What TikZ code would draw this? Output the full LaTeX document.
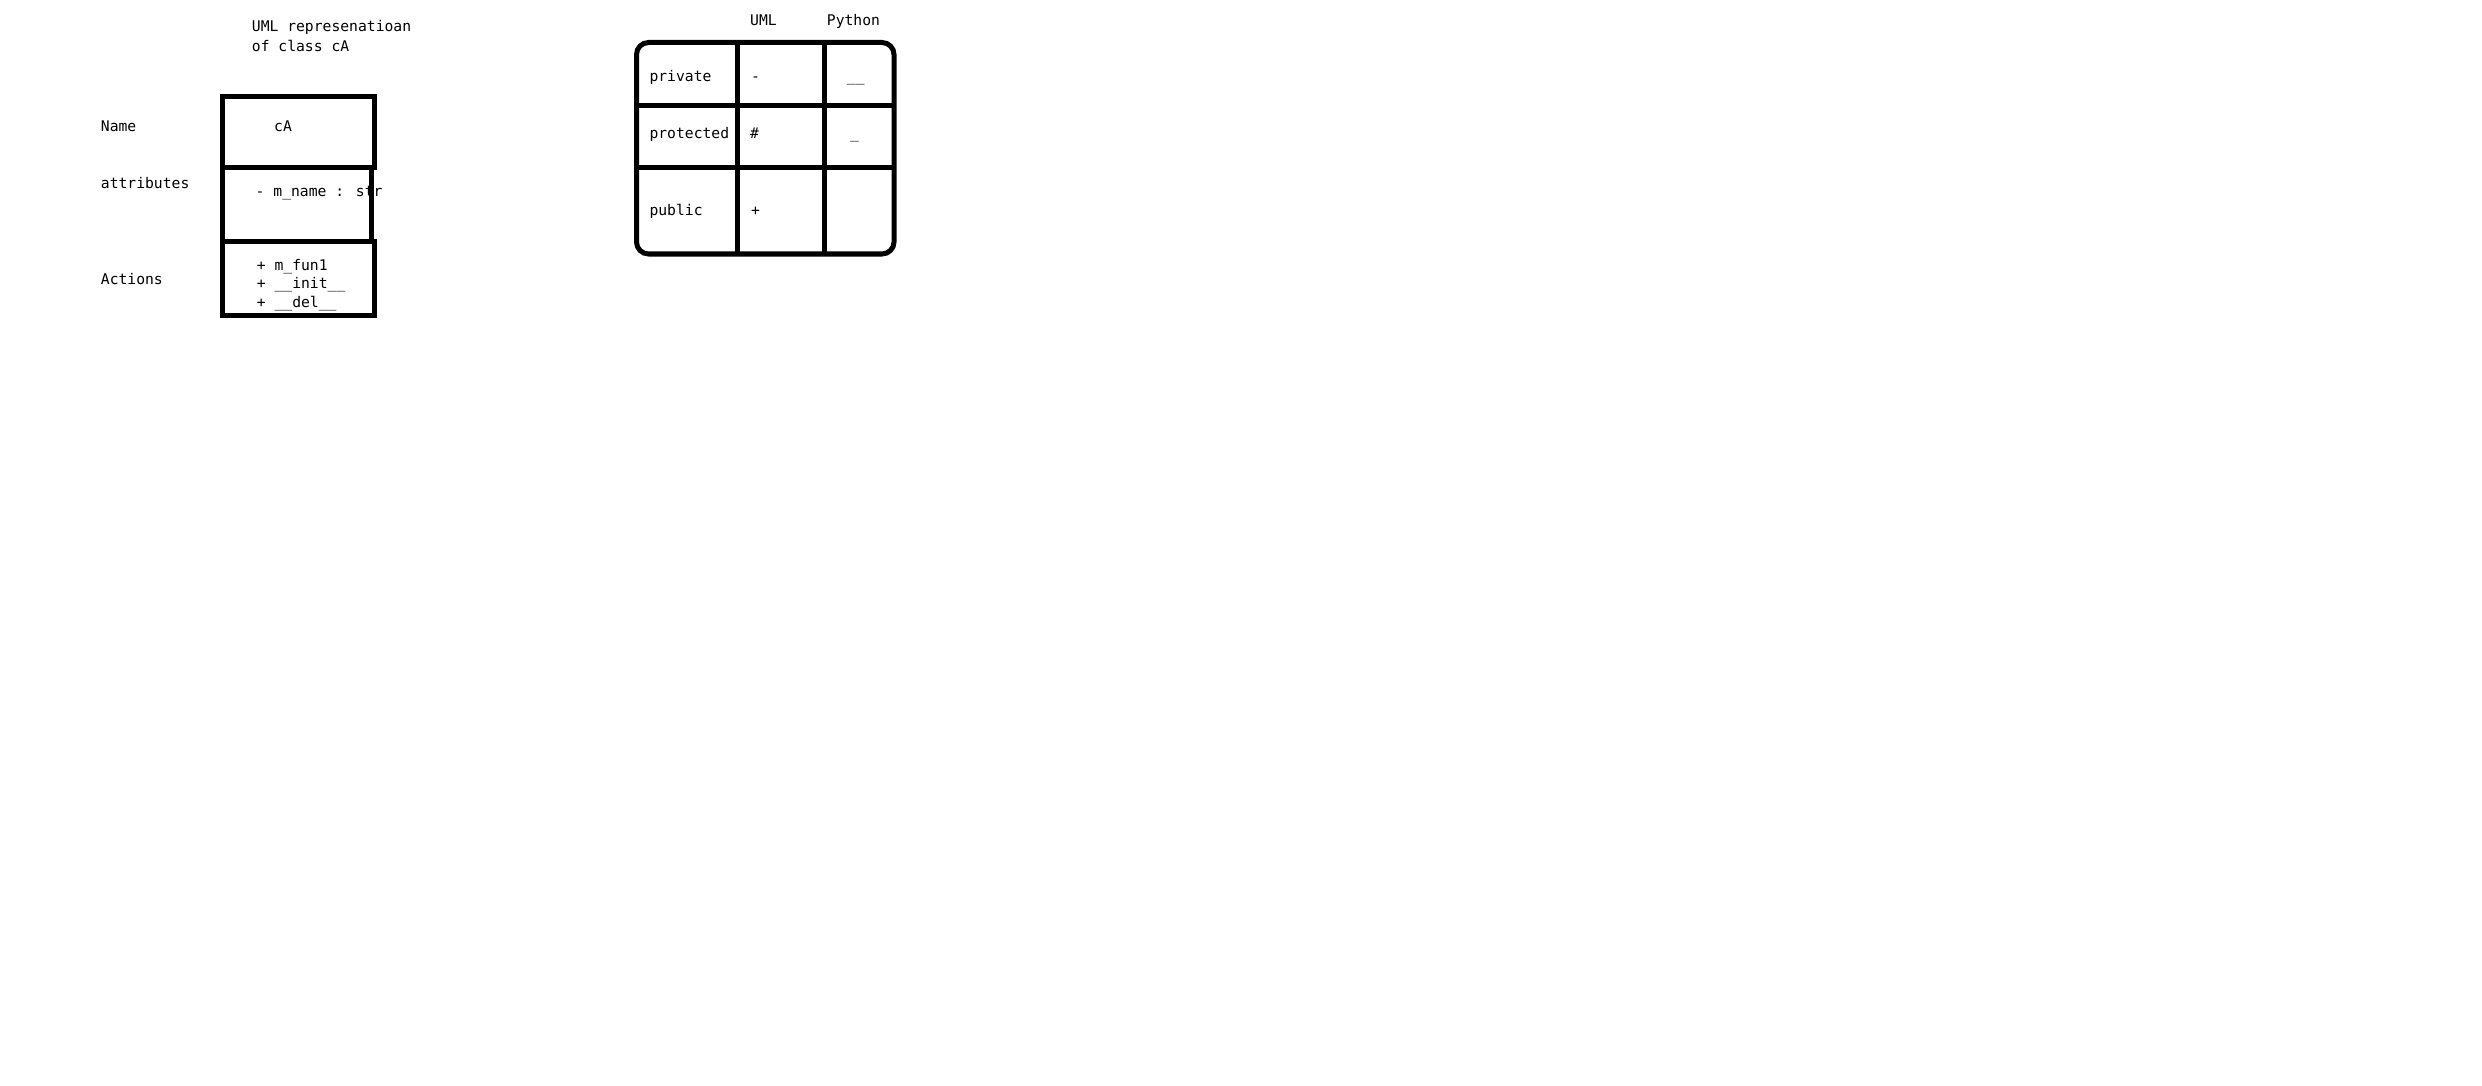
\documentclass[tikz,border=0pt]{standalone}
\usepackage{fontspec}
\newfontfamily\umlfont{DejaVu Sans Mono}
\tikzset{every node/.style={font=\umlfont\fontsize{14.7}{18.5}\selectfont,inner sep=0pt,anchor=base west},txt/.style={align=left},box/.style={line width=5pt},tbl/.style={line width=5pt,rounded corners=12pt}}

\begin{document}
\begin{tikzpicture}[x=1pt,y=-1pt]
\useasboundingbox (0,0) rectangle (2482,1086);
% class cA
\node[txt] (title) at (251.7,51.5) {UML represenatioan\\[1pt]of class cA};
\node (lname) at (100.7,131.7) {Name};\node (lattr) at (100.7,189) {attributes};\node (lact) at (100.7,284) {Actions};
\node (cname) at (274,131.7) {cA};
\node (cattr) at (255.5,196.7) {- m\_name : str};
\node[txt] (cact) at (256.7,307) {+ m\_fun1\\+ \_\_init\_\_\\+ \_\_del\_\_};
\draw[box] (222,96.7) rectangle (374,167.5);\draw[box] (222,167.5) rectangle (371.5,241.5);\draw[box] (222,241.5) rectangle (374,315.7);
% visibility table
\node (huml) at (750,26) {UML};\node (hpy) at (826.7,26) {Python};
\node (rpriv) at (649.3,81.7) {private};\node (upriv) at (751,81.7) {-};\node (ppriv) at (846.7,81.7) {\_\_};
\node (rprot) at (649.3,138.3) {protected};\node (uprot) at (750,138.3) {\#};\node (pprot) at (850,138.3) {\_};
\node (rpub) at (649.3,215) {public};\node (upub) at (751,215) {+};
\draw[tbl] (636.5,42.5) rectangle (894,254);
\draw[box] (737,42.5)--(737,254) (824,42.5)--(824,254) (636.5,106)--(894,106) (636.5,167.5)--(894,167.5);
\end{tikzpicture}
\end{document}
